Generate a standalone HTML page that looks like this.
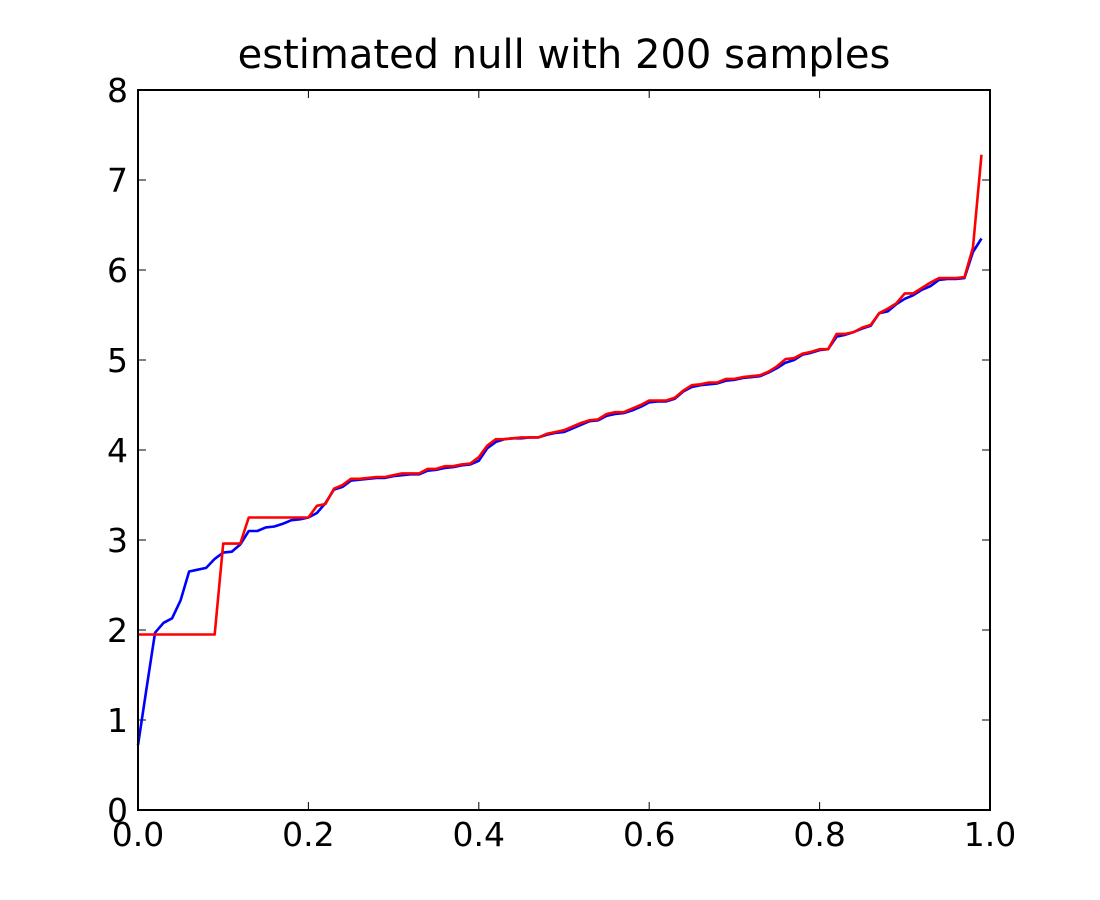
<!DOCTYPE html>
<html><head><meta charset="utf-8"><style>
html,body{margin:0;padding:0;background:#fff;}
svg{display:block;font-family:"DejaVu Sans","Liberation Sans",sans-serif;}
</style></head><body>
<svg id="chart" width="1100" height="900">
<text x="564" y="68" font-size="40" text-anchor="middle">estimated null with 200 samples</text>
<g id="plot"></g>
<rect x="138" y="90" width="852" height="720" fill="none" stroke="#000" stroke-width="2"/>
</svg>
<script>
const xs = [];
for (let i = 0; i < 100; i++) xs.push(i / 100);
const blueValues = [0.72,1.35,1.97,2.08,2.13,2.33,2.65,2.67,2.69,2.79,2.86,2.87,2.95,3.10,3.10,3.14,3.15,3.18,3.22,3.23,3.25,3.30,3.41,3.56,3.59,3.66,3.67,3.68,3.69,3.69,3.71,3.72,3.73,3.73,3.77,3.78,3.80,3.81,3.83,3.84,3.88,4.02,4.09,4.12,4.13,4.13,4.14,4.14,4.17,4.19,4.20,4.24,4.28,4.32,4.33,4.38,4.40,4.41,4.44,4.48,4.53,4.54,4.54,4.57,4.65,4.70,4.72,4.73,4.74,4.77,4.78,4.80,4.81,4.82,4.86,4.91,4.97,5.00,5.06,5.08,5.11,5.12,5.26,5.28,5.31,5.35,5.38,5.52,5.54,5.62,5.68,5.72,5.78,5.82,5.89,5.90,5.90,5.91,6.20,6.35];
const redValues = [1.95,1.95,1.95,1.95,1.95,1.95,1.95,1.95,1.95,1.95,2.96,2.96,2.96,3.25,3.25,3.25,3.25,3.25,3.25,3.25,3.25,3.38,3.40,3.57,3.61,3.68,3.68,3.69,3.70,3.70,3.72,3.74,3.74,3.74,3.79,3.79,3.82,3.82,3.84,3.85,3.92,4.05,4.12,4.12,4.13,4.14,4.14,4.14,4.18,4.20,4.22,4.26,4.30,4.33,4.34,4.40,4.42,4.42,4.46,4.50,4.55,4.55,4.55,4.58,4.66,4.72,4.73,4.75,4.75,4.79,4.79,4.81,4.82,4.83,4.87,4.93,5.01,5.02,5.07,5.09,5.12,5.12,5.29,5.29,5.31,5.36,5.39,5.52,5.57,5.63,5.74,5.74,5.80,5.86,5.91,5.91,5.91,5.92,6.25,7.28];
const xTicks = [0,0.2,0.4,0.6,0.8,1.0];
const xTickLabels = ["0.0","0.2","0.4","0.6","0.8","1.0"];
const yTicks = [0,1,2,3,4,5,6,7,8];
const yTickLabels = ["0","1","2","3","4","5","6","7","8"];

const X0=138,X1=990,Y0=810,Y1=90;
const sx = v => X0 + (X1-X0)*v;
const sy = v => Y0 - (Y0-Y1)*v/8;
const NS="http://www.w3.org/2000/svg";
const plot=document.getElementById('plot');
function mk(tag, attrs){const e=document.createElementNS(NS,tag);for(const k in attrs)e.setAttribute(k,attrs[k]);plot.appendChild(e);return e;}

xTicks.forEach((t,i)=>{
  const x=sx(t);
  const a=mk('line',{x1:x,x2:x,y1:Y0,y2:Y0-8,stroke:'#000','stroke-width':1});
  
  
  const b=mk('line',{x1:x,x2:x,y1:Y1,y2:Y1+8,stroke:'#000','stroke-width':1});
  
  
  const l=mk('text',{x:x,y:Y0+36,'font-size':33,'text-anchor':'middle'});
  l.textContent=xTickLabels[i];
  
  
});
yTicks.forEach((t,i)=>{
  const y=sy(t);
  const a=mk('line',{x1:X0,x2:X0+8,y1:y,y2:y,stroke:'#000','stroke-width':1});
  
  
  const b=mk('line',{x1:X1-8,x2:X1,y1:y,y2:y,stroke:'#000','stroke-width':1});
  
  
  const l=mk('text',{x:X0-10,y:y+12,'font-size':33,'text-anchor':'end'});
  l.textContent=yTickLabels[i];
  
  
});
function series(vals,color,name){
  const d=vals.map((v,i)=>(i?'L':'M')+sx(xs[i]).toFixed(2)+' '+sy(v).toFixed(2)).join(' ');
  const p=mk('path',{d:d,fill:'none',stroke:color,'stroke-width':2.6,'stroke-linejoin':'round'});
  
  
}
series(blueValues,'#0000ff','blue-series-line');
series(redValues,'#ff0000','red-series-line');
</script>
</body></html>
